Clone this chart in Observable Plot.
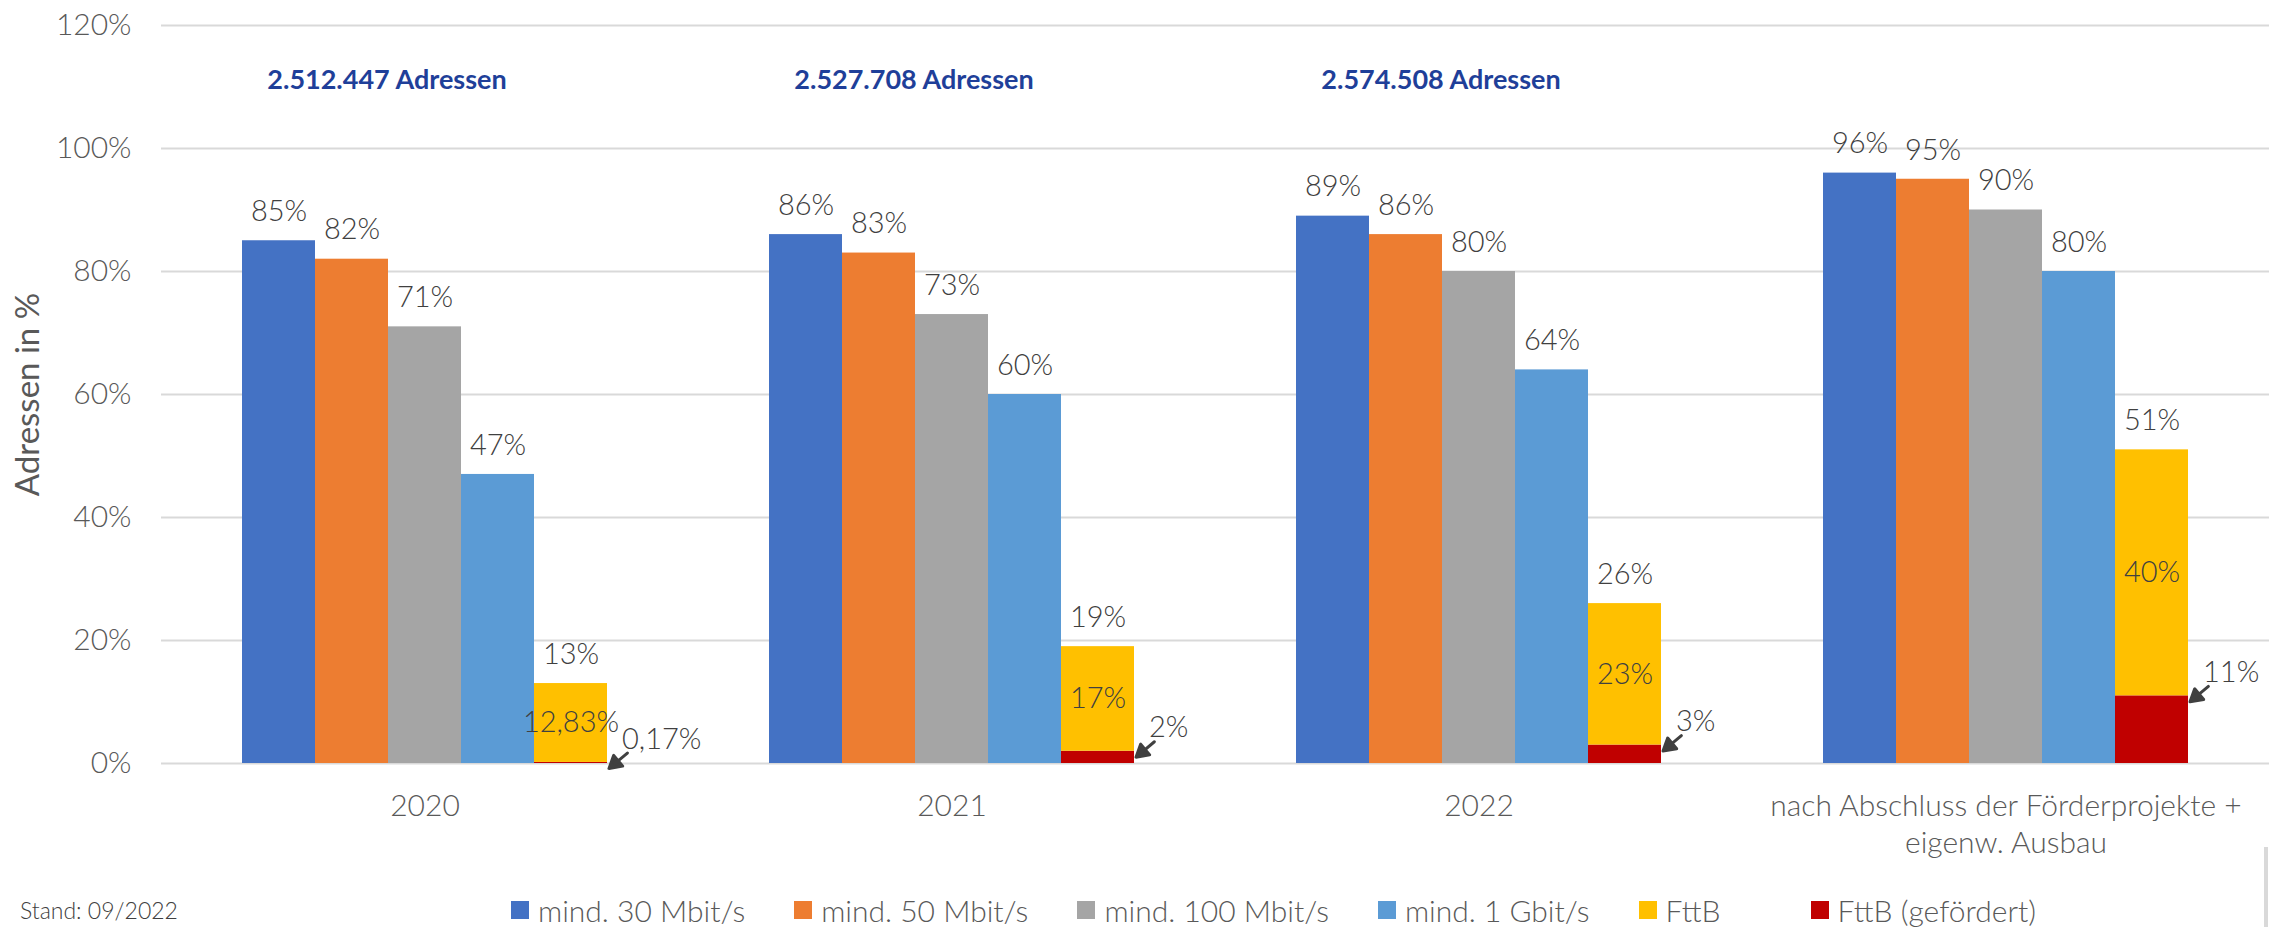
<!DOCTYPE html>
<html><head><meta charset="utf-8">
<script src="https://cdn.jsdelivr.net/npm/d3@7"></script>
<script src="https://cdn.jsdelivr.net/npm/@observablehq/plot@0.6"></script>
<style>
html,body{margin:0;padding:0;background:#fff;overflow:hidden;width:2270px;height:927px}
#wrap{position:relative;width:2270px;height:927px;font-family:Lato,"Open Sans",sans-serif}
#chart{position:absolute;left:0;top:0}
#legend{position:absolute;left:511px;top:892px;display:flex;align-items:center;font-weight:300;font-size:30px;color:#595959;white-space:nowrap}
.item{display:flex;align-items:center;margin-right:49px}
.item:nth-child(5){margin-right:90px}
.sw{width:18px;height:18px;margin-right:9px}
#stand{position:absolute;left:20px;top:899px;font-size:23px;line-height:1;font-weight:300;color:#404040;white-space:nowrap}
#vline{position:absolute;left:2264px;top:847px;width:4px;height:80px;background:#d9d9d9}
</style></head><body><div id="wrap"><div id="chart"></div><div id="legend"></div><div id="stand">Stand: 09/2022</div><div id="vline"></div></div>
<script>
// ---- data ----
const categories = ["2020", "2021", "2022", "nach Abschluss der Förderprojekte +\neigenw. Ausbau"];
const seriesNames = ["mind. 30 Mbit/s", "mind. 50 Mbit/s", "mind. 100 Mbit/s", "mind. 1 Gbit/s", "FttB", "FttB (gefördert)"];
const mind30 = [85, 86, 89, 96];
const mind50 = [82, 83, 86, 95];
const mind100 = [71, 73, 80, 90];
const mind1G = [47, 60, 64, 80];
const fttb = [12.83, 17, 23, 40];
const fttbGefoerdert = [0.17, 2, 3, 11];
const addressLabels = ["2.512.447 Adressen", "2.527.708 Adressen", "2.574.508 Adressen", null];
const yTicks = [0, 20, 40, 60, 80, 100, 120];
const seriesColors = ["#4472C4", "#ED7D31", "#A5A5A5", "#5B9BD5", "#FFC000", "#C00000"];

// ---- build table ----
const slots = ["mind. 30 Mbit/s", "mind. 50 Mbit/s", "mind. 100 Mbit/s", "mind. 1 Gbit/s", "FttB"];
const simple = [mind30, mind50, mind100, mind1G];
const rows = [];
categories.forEach((cat, i) => {
  simple.forEach((arr, s) => rows.push({cat, slot: slots[s], series: seriesNames[s], value: arr[i]}));
  rows.push({cat, slot: "FttB", series: "FttB (gefördert)", value: fttbGefoerdert[i]});
  rows.push({cat, slot: "FttB", series: "FttB", value: fttb[i]});
});
const totals = [];
categories.forEach((cat, i) => {
  simple.forEach((arr, s) => totals.push({cat, slot: slots[s], value: arr[i]}));
  totals.push({cat, slot: "FttB", value: fttb[i] + fttbGefoerdert[i]});
});
const fmt = v => v.toLocaleString("de-DE", {maximumFractionDigits: 2}) + "%";
const yellowLabels = categories.map((cat, i) => ({cat, slot: "FttB", y: fttbGefoerdert[i] + fttb[i] / 2, text: fmt(fttb[i])}));
const redLabels = categories.map((cat, i) => ({cat, slot: "FttB", y: fttbGefoerdert[i], text: fmt(fttbGefoerdert[i])}));
const addr = categories.map((cat, i) => ({cat, text: addressLabels[i]})).filter(d => d.text);

const arrowShape = {
  draw(context, l) {
    const h = 12, w = 7;
    context.moveTo(0, 0);
    context.lineTo(0, -l + h * 0.6);
    context.moveTo(0, -l);
    context.lineTo(-w, -l + h);
    context.lineTo(w, -l + h);
    context.closePath();
  }
};

const chart = Plot.plot({
  width: 2270,
  height: 880,
  marginLeft: 159,
  marginRight: 0,
  marginTop: 25,
  marginBottom: 117,
  style: {fontFamily: "Lato, 'Open Sans', sans-serif", fontWeight: 300, color: "#595959", background: "white", overflow: "visible"},
  fx: {domain: categories, padding: 0, label: null},
  x: {domain: slots, paddingInner: 0, paddingOuter: 1.085, axis: null},
  y: {domain: [0, 120], label: null},
  color: {domain: seriesNames, range: seriesColors},
  marks: [
    Plot.gridY(yTicks, {stroke: "#d9d9d9", strokeOpacity: 1, strokeWidth: 2}),
    Plot.axisY({ticks: yTicks, tickSize: 0, tickPadding: 30, fontSize: 30, tickFormat: d => d + "%", label: null}),
    Plot.axisY({ticks: [], tickSize: 0, fontSize: 33, fontWeight: 400, label: "Adressen in %", labelAnchor: "center", labelOffset: 146, labelArrow: false}),
    Plot.axisFx({anchor: "bottom", tickSize: 0, tickPadding: 26, fontSize: 30, lineHeight: 1.23, label: null}),
    Plot.barY(rows, {fx: "cat", x: "slot", y: "value", fill: "series"}),
    Plot.text(totals, {fx: "cat", x: "slot", y: "value", text: d => Math.round(d.value) + "%", dy: -29, fontSize: 29, fill: "#404040"}),
    Plot.text(yellowLabels, {fx: "cat", x: "slot", y: "y", text: "text", fontSize: 29, fill: "#404040"}),
    Plot.text(redLabels, {fx: "cat", x: "slot", y: "y", text: "text", textAnchor: "start", dx: 51, dy: -23, fontSize: 29, fill: "#404040"}),
    Plot.vector(redLabels, {fx: "cat", x: "slot", y: "y", dx: 38, dy: 6, rotate: 230, length: 24, anchor: "end", shape: arrowShape, stroke: "#404040", fill: "#404040", strokeWidth: 3}),
    Plot.text(addr, {fx: "cat", frameAnchor: "top", text: "text", dx: -38, dy: 44, fontSize: 27, fontWeight: 700, fill: "#1F3F99"})
  ]
});
document.getElementById("chart").appendChild(chart);

// ---- legend ----
const legend = document.getElementById("legend");
seriesNames.forEach((name, i) => {
  const item = document.createElement("div");
  item.className = "item";
  const sw = document.createElement("div");
  sw.className = "sw";
  sw.style.background = seriesColors[i];
  const t = document.createElement("span");
  t.textContent = name;
  item.appendChild(sw);
  item.appendChild(t);
  legend.appendChild(item);
});
</script></body></html>
